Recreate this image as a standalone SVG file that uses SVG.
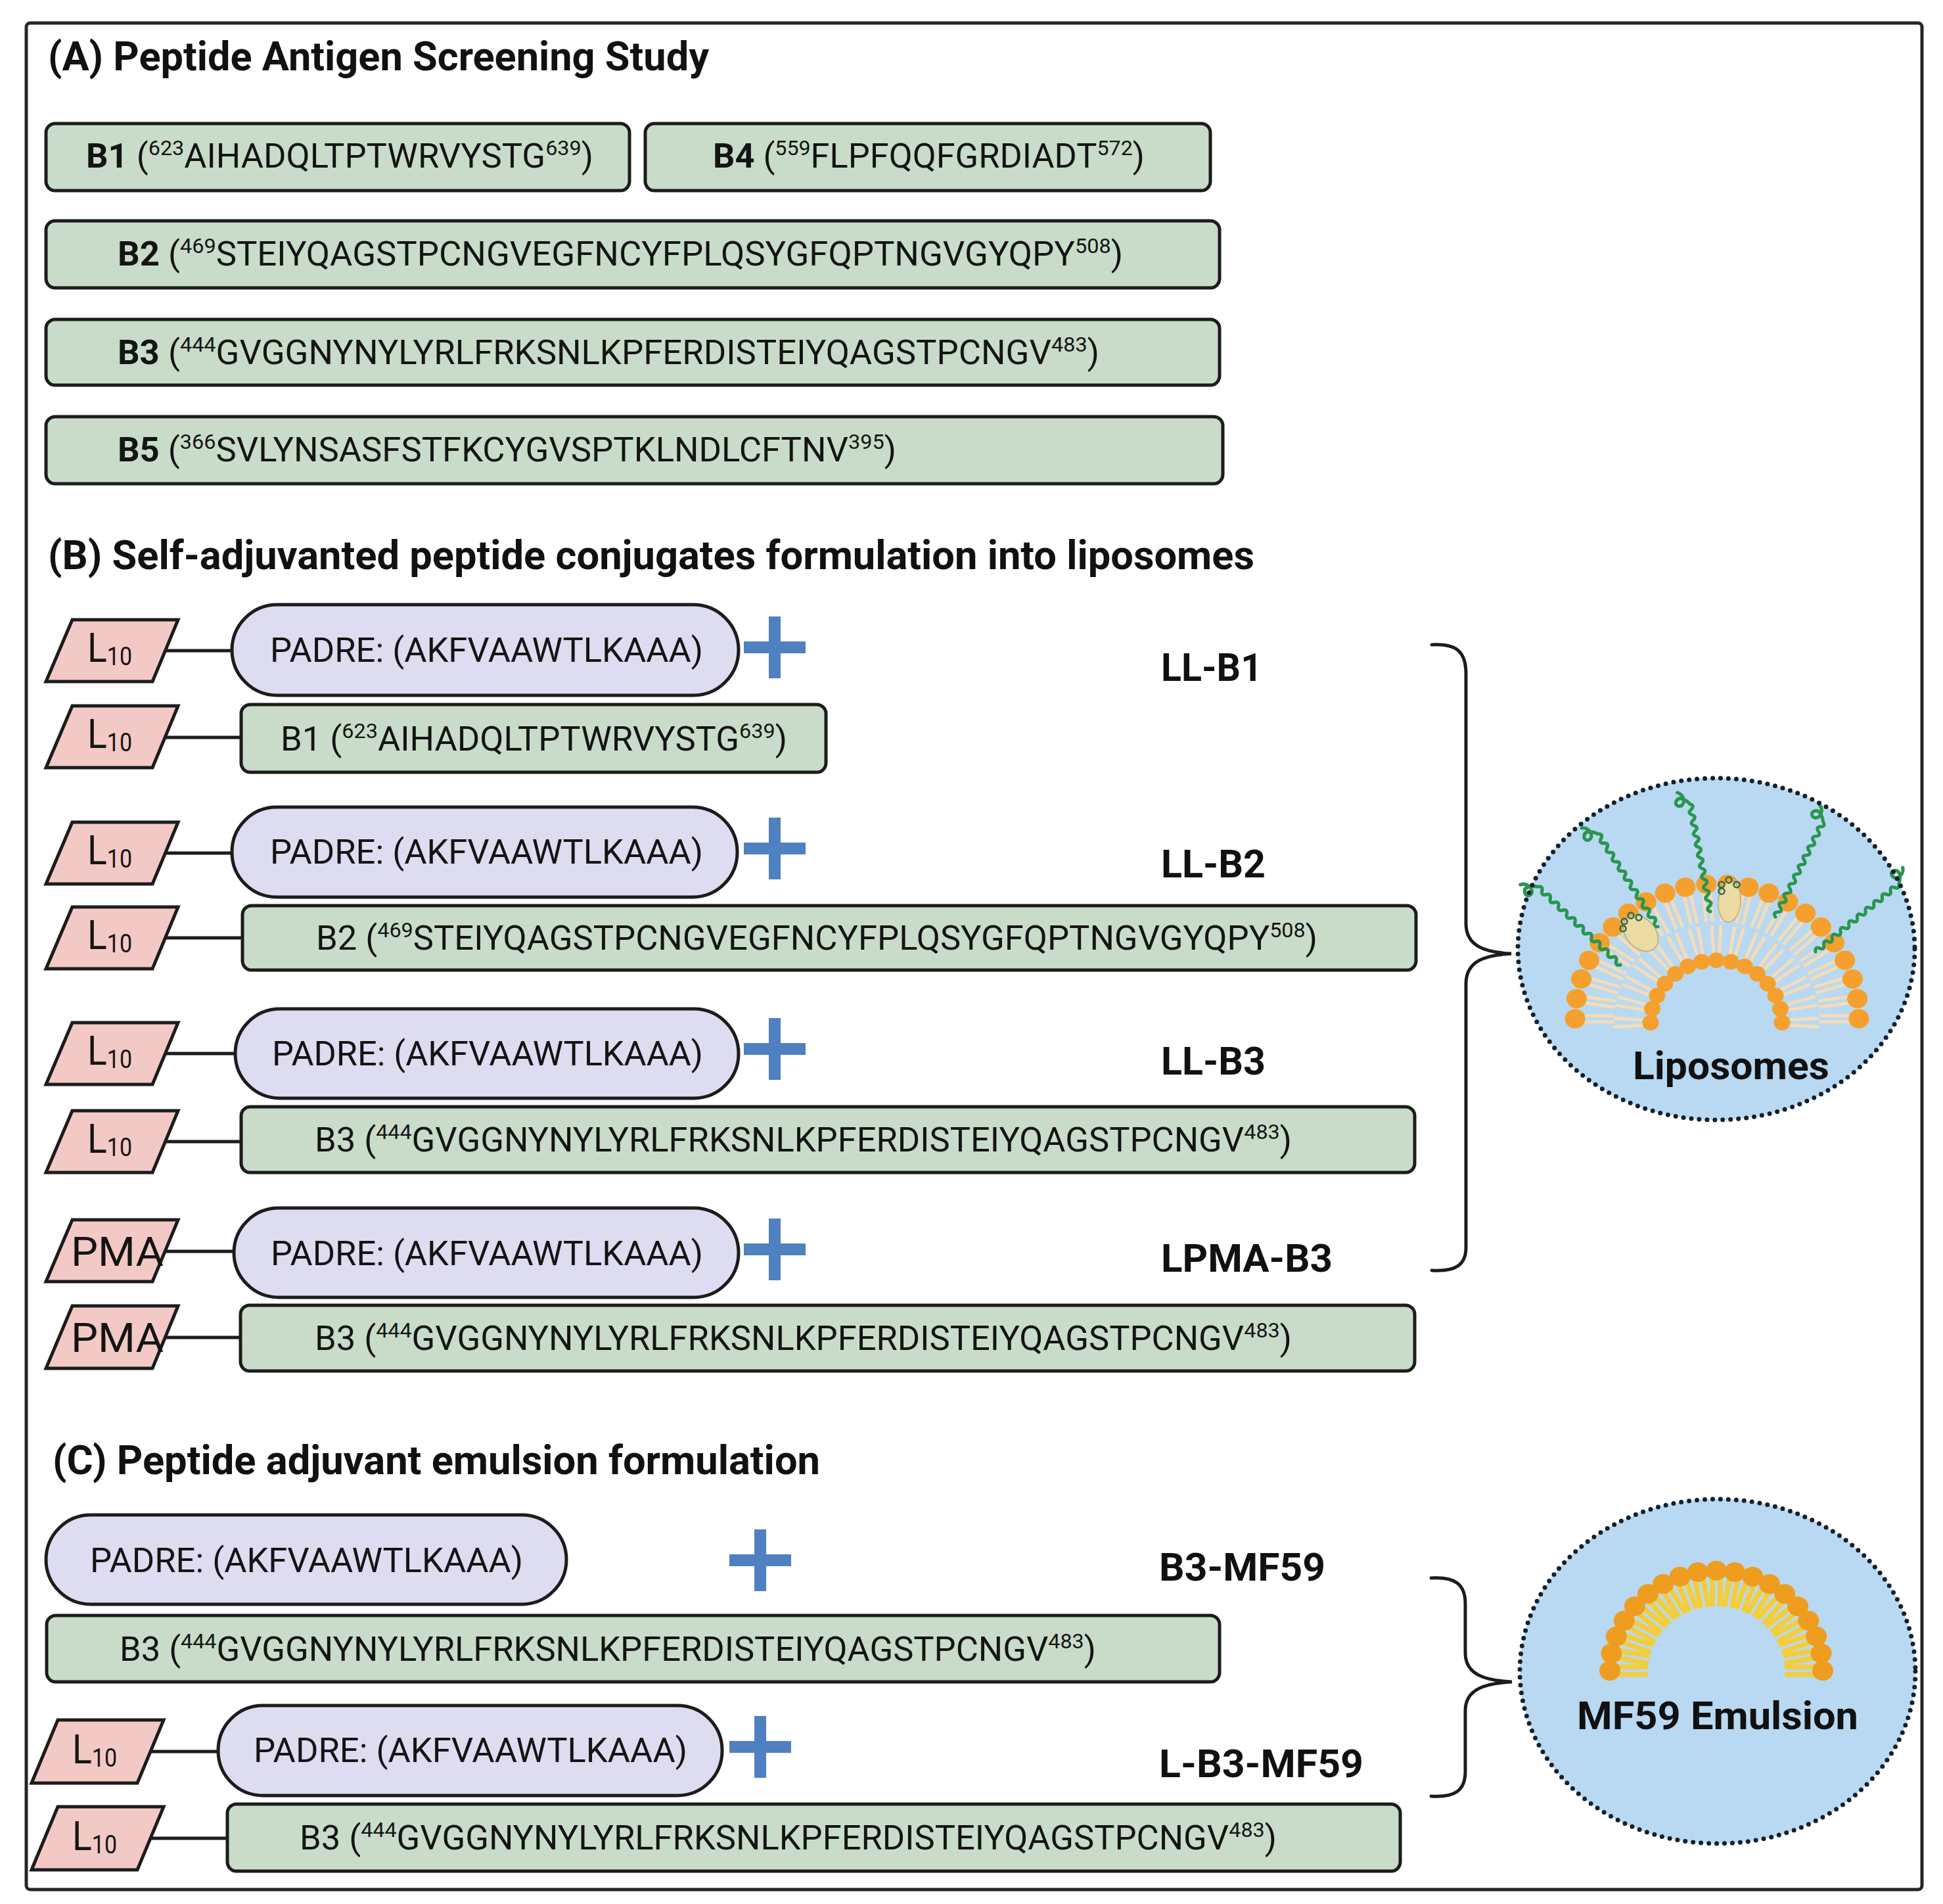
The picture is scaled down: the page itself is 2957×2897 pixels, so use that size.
<svg xmlns="http://www.w3.org/2000/svg" xmlns:xlink="http://www.w3.org/1999/xlink" width="2957" height="2897" viewBox="0 0 2957 2897">
<style>
.frame{fill:#ffffff;stroke:#262626;stroke-width:5}
.box{fill:#c9dcc9;stroke:#1c1c1c;stroke-width:5}
.pill{fill:#dddcf0;stroke:#1c1c1c;stroke-width:5}
.lipid{fill:#f3c9c6;stroke:#1c1c1c;stroke-width:5}
.conn{stroke:#1c1c1c;stroke-width:5;fill:none}
.brace{stroke:#1c1c1c;stroke-width:5;fill:none;stroke-linecap:round}
.plus{stroke:#4f80bf;stroke-width:18;fill:none}
.t{font-family:Roboto,"Liberation Sans",sans-serif;font-size:52px;fill:#141414}
.b{font-weight:bold}
.title{font-family:Roboto,"Liberation Sans",sans-serif;font-size:62px;font-weight:bold;fill:#111}
.lab{font-family:Roboto,"Liberation Sans",sans-serif;font-size:60px;font-weight:bold;fill:#111}
.ltxt{font-family:Roboto,"Liberation Sans",sans-serif;font-size:62px;fill:#141414}
.sub{font-size:38px}
.sup{font-size:32px}
.vesicle{fill:#b9d9f2}
.dots{fill:none;stroke:#14202c;stroke-width:7;stroke-dasharray:0 12;stroke-linecap:round}
.head{fill:#f5a02e}
.mhead{fill:#ef9d1f}
.tail{stroke:#f6dcb6;stroke-width:5}
.mtail{stroke:#f4cd3c;stroke-width:8}
.chain{fill:none;stroke:#2a9550;stroke-width:5;stroke-linecap:round;stroke-linejoin:round}
.pep{fill:#ecdba2;stroke:#c3aa6a;stroke-width:1.5}
.bead{fill:none;stroke:#2c6a4a;stroke-width:2.5}
</style>
<defs>
<g id="ohead">
<line class="tail" x1="-205" y1="-5" x2="-156" y2="-5"/>
<line class="tail" x1="-205" y1="5" x2="-156" y2="5"/>
<circle class="head" cx="-216" cy="0" r="15.5"/>
</g>
<g id="ihead">
<line class="tail" x1="-108" y1="-4" x2="-156" y2="-7"/>
<line class="tail" x1="-108" y1="4" x2="-156" y2="7"/>
<circle class="head" cx="-100" cy="0" r="12.5"/>
</g>
<g id="mhead">
<line class="mtail" x1="-150" y1="-6" x2="-104" y2="-6"/>
<line class="mtail" x1="-150" y1="6" x2="-104" y2="6"/>
<circle class="mhead" cx="-162" cy="0" r="16"/>
</g>
<path id="wave" class="chain" d="M0,0 q4,-7 8,0 t8,0 t8,0 t8,0 t8,0 t8,0 t8,0 t8,0 t8,0 t8,0 t8,0 t8,0 t8,0 t8,0 t8,0 t8,0 t8,0 t8,0 t8,0 t8,0 c6,-4 16,-14 8,-20 c-8,-5 -12,8 -3,11 c7,2 13,-2 15,-7"/>
</defs>

<rect class="frame" x="40" y="35" width="2885" height="2840" rx="6"/>

<!-- Titles -->
<text id="titleA" class="title" x="73" y="107" textLength="1006" lengthAdjust="spacingAndGlyphs">(A) Peptide Antigen Screening Study</text>
<text id="titleB" class="title" x="73" y="866" textLength="1836" lengthAdjust="spacingAndGlyphs">(B) Self-adjuvanted peptide conjugates formulation into liposomes</text>
<text id="titleC" class="title" x="80" y="2243" textLength="1168" lengthAdjust="spacingAndGlyphs">(C) Peptide adjuvant emulsion formulation</text>

<!-- Connectors -->
<g id="connectors">
<line class="conn" x1="251" y1="990" x2="353" y2="990"/>
<line class="conn" x1="251" y1="1122" x2="367" y2="1122"/>
<line class="conn" x1="251" y1="1298" x2="353" y2="1298"/>
<line class="conn" x1="251" y1="1427" x2="369" y2="1427"/>
<line class="conn" x1="251" y1="1603" x2="358" y2="1603"/>
<line class="conn" x1="251" y1="1737" x2="367" y2="1737"/>
<line class="conn" x1="251" y1="1904" x2="356" y2="1904"/>
<line class="conn" x1="251" y1="2035" x2="366" y2="2035"/>
<line class="conn" x1="229" y1="2665" x2="332" y2="2665"/>
<line class="conn" x1="229" y1="2797" x2="346" y2="2797"/>
<path class="brace" d="M2179,981 C2215,979 2231,990 2231,1025 L2231,1405 C2231,1440 2260,1449 2300,1451 C2260,1453 2231,1462 2231,1497 L2231,1898 C2231,1925 2215,1935 2179,1933"/>
<path class="brace" d="M2178,2401 C2214,2399 2230,2410 2230,2440 L2230,2515 C2230,2548 2260,2557 2301,2559 C2260,2561 2230,2570 2230,2603 L2230,2695 C2230,2725 2214,2735 2178,2733"/>
</g>

<!-- Section A -->
<g id="A-B1">
<rect class="box" x="70" y="188" width="888" height="102" rx="14"/>
<text class="t" x="131" y="255" textLength="772" lengthAdjust="spacingAndGlyphs"><tspan class="b">B1</tspan> (<tspan class="sup" dy="-19">623</tspan><tspan dy="19">AIHADQLTPTWRVYSTG</tspan><tspan class="sup" dy="-19">639</tspan><tspan dy="19">)</tspan></text>
</g>
<g id="A-B4">
<rect class="box" x="982" y="188" width="860" height="102" rx="14"/>
<text class="t" x="1085" y="255" textLength="657" lengthAdjust="spacingAndGlyphs"><tspan class="b">B4</tspan> (<tspan class="sup" dy="-19">559</tspan><tspan dy="19">FLPFQQFGRDIADT</tspan><tspan class="sup" dy="-19">572</tspan><tspan dy="19">)</tspan></text>
</g>
<g id="A-B2">
<rect class="box" x="70" y="336" width="1786" height="102" rx="14"/>
<text class="t" x="179" y="404" textLength="1530" lengthAdjust="spacingAndGlyphs"><tspan class="b">B2</tspan> (<tspan class="sup" dy="-19">469</tspan><tspan dy="19">STEIYQAGSTPCNGVEGFNCYFPLQSYGFQPTNGVGYQPY</tspan><tspan class="sup" dy="-19">508</tspan><tspan dy="19">)</tspan></text>
</g>
<g id="A-B3">
<rect class="box" x="70" y="486" width="1786" height="100" rx="14"/>
<text class="t" x="179" y="554" textLength="1494" lengthAdjust="spacingAndGlyphs"><tspan class="b">B3</tspan> (<tspan class="sup" dy="-19">444</tspan><tspan dy="19">GVGGNYNYLYRLFRKSNLKPFERDISTEIYQAGSTPCNGV</tspan><tspan class="sup" dy="-19">483</tspan><tspan dy="19">)</tspan></text>
</g>
<g id="A-B5">
<rect class="box" x="70" y="634" width="1791" height="102" rx="14"/>
<text class="t" x="179" y="702" textLength="1185" lengthAdjust="spacingAndGlyphs"><tspan class="b">B5</tspan> (<tspan class="sup" dy="-19">366</tspan><tspan dy="19">SVLYNSASFSTFKCYGVSPTKLNDLCFTNV</tspan><tspan class="sup" dy="-19">395</tspan><tspan dy="19">)</tspan></text>
</g>

<!-- Section B lipid anchors -->
<g id="B-L1"><polygon class="lipid" points="110,943 271,943 232,1037 70,1037"/><text class="ltxt" x="133" y="1007" textLength="68" lengthAdjust="spacingAndGlyphs">L<tspan class="sub" dy="5">10</tspan></text></g>
<g id="B-L2"><polygon class="lipid" points="110,1074 271,1074 232,1168 70,1168"/><text class="ltxt" x="133" y="1138" textLength="68" lengthAdjust="spacingAndGlyphs">L<tspan class="sub" dy="5">10</tspan></text></g>
<g id="B-L3"><polygon class="lipid" points="110,1251 271,1251 232,1345 70,1345"/><text class="ltxt" x="133" y="1315" textLength="68" lengthAdjust="spacingAndGlyphs">L<tspan class="sub" dy="5">10</tspan></text></g>
<g id="B-L4"><polygon class="lipid" points="110,1380 271,1380 232,1474 70,1474"/><text class="ltxt" x="133" y="1444" textLength="68" lengthAdjust="spacingAndGlyphs">L<tspan class="sub" dy="5">10</tspan></text></g>
<g id="B-L5"><polygon class="lipid" points="110,1556 271,1556 232,1650 70,1650"/><text class="ltxt" x="133" y="1620" textLength="68" lengthAdjust="spacingAndGlyphs">L<tspan class="sub" dy="5">10</tspan></text></g>
<g id="B-L6"><polygon class="lipid" points="110,1690 271,1690 232,1784 70,1784"/><text class="ltxt" x="133" y="1754" textLength="68" lengthAdjust="spacingAndGlyphs">L<tspan class="sub" dy="5">10</tspan></text></g>
<g id="B-PMA1"><polygon class="lipid" points="110,1856 271,1856 232,1950 70,1950"/><text class="ltxt" x="108" y="1926" font-size="60" textLength="141" lengthAdjust="spacingAndGlyphs">PMA</text></g>
<g id="B-PMA2"><polygon class="lipid" points="110,1987 271,1987 232,2082 70,2082"/><text class="ltxt" x="108" y="2057" font-size="60" textLength="141" lengthAdjust="spacingAndGlyphs">PMA</text></g>

<!-- Section B PADRE pills -->
<g id="B-PADRE1"><rect class="pill" x="353" y="920" width="771" height="138" rx="69"/><text class="t" x="411" y="1007" textLength="659" lengthAdjust="spacingAndGlyphs">PADRE: (AKFVAAWTLKAAA)</text></g>
<g id="B-PADRE2"><rect class="pill" x="353" y="1228" width="769" height="137" rx="68"/><text class="t" x="411" y="1314" textLength="659" lengthAdjust="spacingAndGlyphs">PADRE: (AKFVAAWTLKAAA)</text></g>
<g id="B-PADRE3"><rect class="pill" x="358" y="1535" width="766" height="136" rx="68"/><text class="t" x="414" y="1621" textLength="656" lengthAdjust="spacingAndGlyphs">PADRE: (AKFVAAWTLKAAA)</text></g>
<g id="B-PADRE4"><rect class="pill" x="356" y="1838" width="768" height="136" rx="68"/><text class="t" x="412" y="1925" textLength="658" lengthAdjust="spacingAndGlyphs">PADRE: (AKFVAAWTLKAAA)</text></g>

<!-- Plus signs -->
<g id="plus-B1"><path class="plus" d="M1179,938 V1032 M1132,985 H1226"/></g>
<g id="plus-B2"><path class="plus" d="M1179,1244 V1338 M1132,1291 H1226"/></g>
<g id="plus-B3"><path class="plus" d="M1179,1549 V1643 M1132,1596 H1226"/></g>
<g id="plus-B4"><path class="plus" d="M1179,1854 V1948 M1132,1901 H1226"/></g>
<g id="plus-C1"><path class="plus" d="M1157,2327 V2421 M1110,2374 H1204"/></g>
<g id="plus-C2"><path class="plus" d="M1157,2611 V2705 M1110,2658 H1204"/></g>

<!-- Section B antigen boxes -->
<g id="B-B1">
<rect class="box" x="367" y="1072" width="890" height="103" rx="14"/>
<text class="t" x="427" y="1142" textLength="771" lengthAdjust="spacingAndGlyphs">B1 (<tspan class="sup" dy="-19">623</tspan><tspan dy="19">AIHADQLTPTWRVYSTG</tspan><tspan class="sup" dy="-19">639</tspan><tspan dy="19">)</tspan></text>
</g>
<g id="B-B2">
<rect class="box" x="369" y="1378" width="1786" height="98" rx="14"/>
<text class="t" x="481" y="1445" textLength="1524" lengthAdjust="spacingAndGlyphs">B2 (<tspan class="sup" dy="-19">469</tspan><tspan dy="19">STEIYQAGSTPCNGVEGFNCYFPLQSYGFQPTNGVGYQPY</tspan><tspan class="sup" dy="-19">508</tspan><tspan dy="19">)</tspan></text>
</g>
<g id="B-B3">
<rect class="box" x="367" y="1684" width="1786" height="100" rx="14"/>
<text class="t" x="479" y="1752" textLength="1487" lengthAdjust="spacingAndGlyphs">B3 (<tspan class="sup" dy="-19">444</tspan><tspan dy="19">GVGGNYNYLYRLFRKSNLKPFERDISTEIYQAGSTPCNGV</tspan><tspan class="sup" dy="-19">483</tspan><tspan dy="19">)</tspan></text>
</g>
<g id="B-B3-PMA">
<rect class="box" x="366" y="1986" width="1787" height="100" rx="14"/>
<text class="t" x="479" y="2054" textLength="1487" lengthAdjust="spacingAndGlyphs">B3 (<tspan class="sup" dy="-19">444</tspan><tspan dy="19">GVGGNYNYLYRLFRKSNLKPFERDISTEIYQAGSTPCNGV</tspan><tspan class="sup" dy="-19">483</tspan><tspan dy="19">)</tspan></text>
</g>

<!-- Formulation labels -->
<g id="labels">
<text class="lab" x="1767" y="1036" textLength="154" lengthAdjust="spacingAndGlyphs">LL-B1</text>
<text class="lab" x="1767" y="1335" textLength="159" lengthAdjust="spacingAndGlyphs">LL-B2</text>
<text class="lab" x="1767" y="1635" textLength="159" lengthAdjust="spacingAndGlyphs">LL-B3</text>
<text class="lab" x="1767" y="1935" textLength="261" lengthAdjust="spacingAndGlyphs">LPMA-B3</text>
<text class="lab" x="1764" y="2405" textLength="253" lengthAdjust="spacingAndGlyphs">B3-MF59</text>
<text class="lab" x="1764" y="2704" textLength="311" lengthAdjust="spacingAndGlyphs">L-B3-MF59</text>
</g>

<!-- Liposomes -->
<g id="liposomes">
<ellipse class="vesicle" cx="2612" cy="1444" rx="302" ry="260"/>
<g transform="translate(2613,1550) scale(1,0.95)">
<use xlink:href="#ohead" transform="rotate(0)"/>
<use xlink:href="#ohead" transform="rotate(8.57)"/>
<use xlink:href="#ohead" transform="rotate(17.14)"/>
<use xlink:href="#ohead" transform="rotate(25.71)"/>
<use xlink:href="#ohead" transform="rotate(34.29)"/>
<use xlink:href="#ohead" transform="rotate(42.86)"/>
<use xlink:href="#ohead" transform="rotate(51.43)"/>
<use xlink:href="#ohead" transform="rotate(60)"/>
<use xlink:href="#ohead" transform="rotate(68.57)"/>
<use xlink:href="#ohead" transform="rotate(77.14)"/>
<use xlink:href="#ohead" transform="rotate(85.71)"/>
<use xlink:href="#ohead" transform="rotate(94.29)"/>
<use xlink:href="#ohead" transform="rotate(102.86)"/>
<use xlink:href="#ohead" transform="rotate(111.43)"/>
<use xlink:href="#ohead" transform="rotate(120)"/>
<use xlink:href="#ohead" transform="rotate(128.57)"/>
<use xlink:href="#ohead" transform="rotate(137.14)"/>
<use xlink:href="#ohead" transform="rotate(145.71)"/>
<use xlink:href="#ohead" transform="rotate(154.29)"/>
<use xlink:href="#ohead" transform="rotate(162.86)"/>
<use xlink:href="#ohead" transform="rotate(171.43)"/>
<use xlink:href="#ohead" transform="rotate(180)"/>
</g>
<g transform="translate(2612,1556) scale(1,0.95)">
<use xlink:href="#ihead" transform="rotate(0)"/>
<use xlink:href="#ihead" transform="rotate(12.86)"/>
<use xlink:href="#ihead" transform="rotate(25.71)"/>
<use xlink:href="#ihead" transform="rotate(38.57)"/>
<use xlink:href="#ihead" transform="rotate(51.43)"/>
<use xlink:href="#ihead" transform="rotate(64.29)"/>
<use xlink:href="#ihead" transform="rotate(77.14)"/>
<use xlink:href="#ihead" transform="rotate(90)"/>
<use xlink:href="#ihead" transform="rotate(102.86)"/>
<use xlink:href="#ihead" transform="rotate(115.71)"/>
<use xlink:href="#ihead" transform="rotate(128.57)"/>
<use xlink:href="#ihead" transform="rotate(141.43)"/>
<use xlink:href="#ihead" transform="rotate(154.29)"/>
<use xlink:href="#ihead" transform="rotate(167.14)"/>
<use xlink:href="#ihead" transform="rotate(180)"/>
</g>
<use xlink:href="#wave" transform="translate(2466,1468) rotate(-136.6) scale(1.08,1)"/>
<use xlink:href="#wave" transform="translate(2523,1410) rotate(-122.8) scale(1.05,1)"/>
<use xlink:href="#wave" transform="translate(2603,1387) rotate(-100.7) scale(1.04,1)"/>
<use xlink:href="#wave" transform="translate(2702,1395) rotate(-63.3) scale(1.01,1)"/>
<use xlink:href="#wave" transform="translate(2763,1448) rotate(-39) scale(1.02,1)"/>
<ellipse class="pep" cx="2497" cy="1420" rx="22" ry="31" transform="rotate(-42 2497 1420)"/>
<circle class="bead" cx="2472" cy="1402" r="4.5"/><circle class="bead" cx="2482" cy="1393" r="4.5"/><circle class="bead" cx="2494" cy="1396" r="4.5"/><circle class="bead" cx="2470" cy="1413" r="4.5"/>
<ellipse class="pep" cx="2632" cy="1372" rx="17" ry="31" transform="rotate(4 2632 1372)"/>
<circle class="bead" cx="2620" cy="1346" r="4.5"/><circle class="bead" cx="2631" cy="1339" r="4.5"/><circle class="bead" cx="2643" cy="1346" r="4.5"/><circle class="bead" cx="2620" cy="1356" r="4.5"/>
<ellipse class="dots" cx="2612" cy="1444" rx="302" ry="260"/>
<text class="lab" x="2485" y="1642" font-size="58" textLength="299" lengthAdjust="spacingAndGlyphs">Liposomes</text>
</g>

<!-- Section C -->
<g id="C-PADRE1"><rect class="pill" x="70" y="2305" width="792" height="136" rx="68"/><text class="t" x="137" y="2392" textLength="659" lengthAdjust="spacingAndGlyphs">PADRE: (AKFVAAWTLKAAA)</text></g>
<g id="C-B3">
<rect class="box" x="71" y="2458" width="1785" height="101" rx="14"/>
<text class="t" x="182" y="2527" textLength="1486" lengthAdjust="spacingAndGlyphs">B3 (<tspan class="sup" dy="-19">444</tspan><tspan dy="19">GVGGNYNYLYRLFRKSNLKPFERDISTEIYQAGSTPCNGV</tspan><tspan class="sup" dy="-19">483</tspan><tspan dy="19">)</tspan></text>
</g>
<g id="C-L1"><polygon class="lipid" points="88,2617 249,2617 209,2713 48,2713"/><text class="ltxt" x="110" y="2683" textLength="68" lengthAdjust="spacingAndGlyphs">L<tspan class="sub" dy="5">10</tspan></text></g>
<g id="C-PADRE2"><rect class="pill" x="332" y="2595" width="767" height="137" rx="68"/><text class="t" x="386" y="2681" textLength="660" lengthAdjust="spacingAndGlyphs">PADRE: (AKFVAAWTLKAAA)</text></g>
<g id="C-L2"><polygon class="lipid" points="88,2749 249,2749 209,2845 48,2845"/><text class="ltxt" x="110" y="2815" textLength="68" lengthAdjust="spacingAndGlyphs">L<tspan class="sub" dy="5">10</tspan></text></g>
<g id="C-B3-L">
<rect class="box" x="346" y="2745" width="1785" height="102" rx="14"/>
<text class="t" x="456" y="2814" textLength="1487" lengthAdjust="spacingAndGlyphs">B3 (<tspan class="sup" dy="-19">444</tspan><tspan dy="19">GVGGNYNYLYRLFRKSNLKPFERDISTEIYQAGSTPCNGV</tspan><tspan class="sup" dy="-19">483</tspan><tspan dy="19">)</tspan></text>
</g>

<!-- MF59 emulsion -->
<g id="mf59">
<ellipse class="vesicle" cx="2614" cy="2543" rx="301" ry="262"/>
<g transform="translate(2612,2542) scale(1,0.94)">
<use xlink:href="#mhead" transform="rotate(0)"/>
<use xlink:href="#mhead" transform="rotate(10)"/>
<use xlink:href="#mhead" transform="rotate(20)"/>
<use xlink:href="#mhead" transform="rotate(30)"/>
<use xlink:href="#mhead" transform="rotate(40)"/>
<use xlink:href="#mhead" transform="rotate(50)"/>
<use xlink:href="#mhead" transform="rotate(60)"/>
<use xlink:href="#mhead" transform="rotate(70)"/>
<use xlink:href="#mhead" transform="rotate(80)"/>
<use xlink:href="#mhead" transform="rotate(90)"/>
<use xlink:href="#mhead" transform="rotate(100)"/>
<use xlink:href="#mhead" transform="rotate(110)"/>
<use xlink:href="#mhead" transform="rotate(120)"/>
<use xlink:href="#mhead" transform="rotate(130)"/>
<use xlink:href="#mhead" transform="rotate(140)"/>
<use xlink:href="#mhead" transform="rotate(150)"/>
<use xlink:href="#mhead" transform="rotate(160)"/>
<use xlink:href="#mhead" transform="rotate(170)"/>
<use xlink:href="#mhead" transform="rotate(180)"/>
</g>
<ellipse class="dots" cx="2614" cy="2543" rx="301" ry="262"/>
<text class="lab" x="2400" y="2631" font-size="58" textLength="428" lengthAdjust="spacingAndGlyphs">MF59 Emulsion</text>
</g>
</svg>
